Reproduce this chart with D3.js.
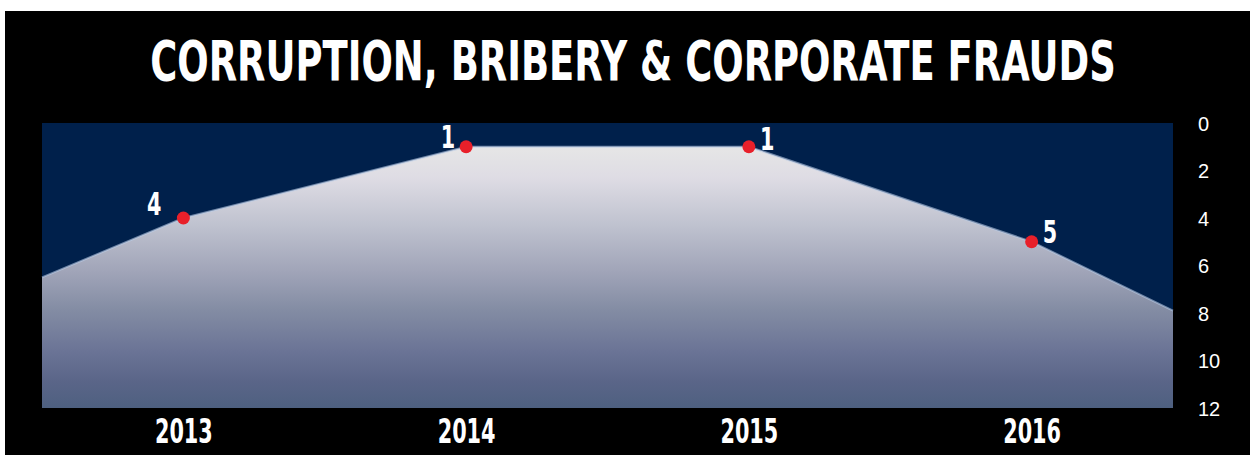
<!DOCTYPE html>
<html>
<head>
<meta charset="utf-8">
<script src="https://cdn.jsdelivr.net/npm/d3@7"></script>
<style>
  html, body { margin: 0; padding: 0; background: #ffffff; }
  svg { display: block; }
</style>
</head>
<body>
<svg id="chart" width="1250" height="455"></svg>
<script>
// Ranking of "Corruption, bribery & corporate frauds" per year (1 = top concern)
const years = ["2013", "2014", "2015", "2016"];
const ranks = [4, 1, 1, 5];
// where the shaded band meets the left and right borders of the plot
const edgeRanks = [6.5, 7.9];
const yTicks = [0, 2, 4, 6, 8, 10, 12];
const title = "CORRUPTION, BRIBERY & CORPORATE FRAUDS";

const W = 1250, H = 455;
const plot = { left: 42, right: 1173, top: 123, bottom: 408 };
const condensed = "'Liberation Sans Narrow', 'DejaVu Sans Condensed', 'Arial Narrow', sans-serif";
const squeeze = 0.68; // horizontal compression for the tall condensed lettering

const svg = d3.select("#chart");

// black card
svg.append("rect")
  .attr("x", 5).attr("y", 11)
  .attr("width", W - 5).attr("height", H - 11)
  .attr("fill", "#000000");

// title, squeezed horizontally to its column width
const titleG = svg.append("g").attr("transform", "translate(633,80)");
const titleText = titleG.append("text")
  .attr("text-anchor", "middle")
  .style("font-family", condensed)
  .style("font-weight", "bold")
  .style("font-size", "55px")
  .attr("fill", "#ffffff")
  .text(title);
const natural = titleText.node().getComputedTextLength();
titleText.attr("transform", `scale(${966 / natural},1)`);

const x = d3.scalePoint().domain(years).range([plot.left, plot.right]).padding(0.5);
const y = d3.scaleLinear().domain([0, 12]).range([plot.top, plot.bottom]);

// navy plot background
svg.append("rect")
  .attr("x", plot.left).attr("y", plot.top)
  .attr("width", plot.right - plot.left).attr("height", plot.bottom - plot.top)
  .attr("fill", "#00204b");

// vertical fade for the area
const defs = svg.append("defs");
const grad = defs.append("linearGradient")
  .attr("id", "fade")
  .attr("gradientUnits", "userSpaceOnUse")
  .attr("x1", 0).attr("x2", 0)
  .attr("y1", y(1)).attr("y2", plot.bottom);
[
  [0.00, "#e6e6e6"],
  [0.12, "#dedce4"],
  [0.30, "#bfc2cf"],
  [0.48, "#a0a4b8"],
  [0.62, "#848da4"],
  [0.78, "#6b7496"],
  [0.90, "#5a6588"],
  [1.00, "#4e6080"]
].forEach(([o, c]) => grad.append("stop").attr("offset", o).attr("stop-color", c));

const pts = [{ px: plot.left, v: edgeRanks[0] }]
  .concat(years.map((yr, i) => ({ px: x(yr), v: ranks[i] })))
  .concat([{ px: plot.right, v: edgeRanks[1] }]);

const area = d3.area()
  .x(d => d.px)
  .y0(plot.bottom)
  .y1(d => y(d.v));

svg.append("path")
  .datum(pts)
  .attr("d", area)
  .attr("fill", "url(#fade)");

// soft light rim along the top edge
svg.append("path")
  .datum(pts)
  .attr("d", d3.line().x(d => d.px).y(d => y(d.v)))
  .attr("fill", "none")
  .attr("stroke", "#b9cbe6")
  .attr("stroke-opacity", 0.6)
  .attr("stroke-width", 2);

// markers
svg.selectAll("circle.dot")
  .data(years)
  .join("circle")
  .attr("class", "dot")
  .attr("cx", d => x(d))
  .attr("cy", (d, i) => y(ranks[i]))
  .attr("r", 6.5)
  .attr("fill", "#e8202a");

// value labels: first half to the left of the marker, second half to the right
svg.selectAll("g.val")
  .data(years)
  .join("g")
  .attr("class", "val")
  .attr("transform", (d, i) => {
    const lx = i < 2 ? x(d) - (i === 0 ? 22 : 11) : x(d) + 11;
    const ly = y(ranks[i]) + (i === 0 ? -3 : i === 2 ? 3 : 1);
    return `translate(${lx},${ly}) scale(${squeeze + 0.04},1)`;
  })
  .append("text")
  .attr("text-anchor", (d, i) => i < 2 ? "end" : "start")
  .style("font-family", condensed)
  .style("font-weight", "bold")
  .style("font-size", "32px")
  .attr("fill", "#ffffff")
  .text((d, i) => ranks[i]);

// right-hand axis (rank, reversed)
const yAxis = d3.axisRight(y).tickValues(yTicks).tickSize(0).tickPadding(0);
const ya = svg.append("g")
  .attr("transform", `translate(1198,0)`)
  .call(yAxis);
ya.select(".domain").remove();
ya.selectAll("text")
  .attr("fill", "#ffffff")
  .attr("dy", "0.35em")
  .style("font-family", "'Liberation Sans', 'Noto Sans', sans-serif")
  .style("font-size", "20px");

// year axis
const xAxis = d3.axisBottom(x).tickSize(0).tickPadding(0);
const xa = svg.append("g")
  .attr("transform", `translate(0,443)`)
  .call(xAxis);
xa.select(".domain").remove();
xa.selectAll("text")
  .attr("fill", "#ffffff")
  .attr("y", 0)
  .attr("dy", 0)
  .attr("transform", `scale(${squeeze},1)`)
  .style("font-family", condensed)
  .style("font-weight", "bold")
  .style("font-size", "34px");
</script>
</body>
</html>
